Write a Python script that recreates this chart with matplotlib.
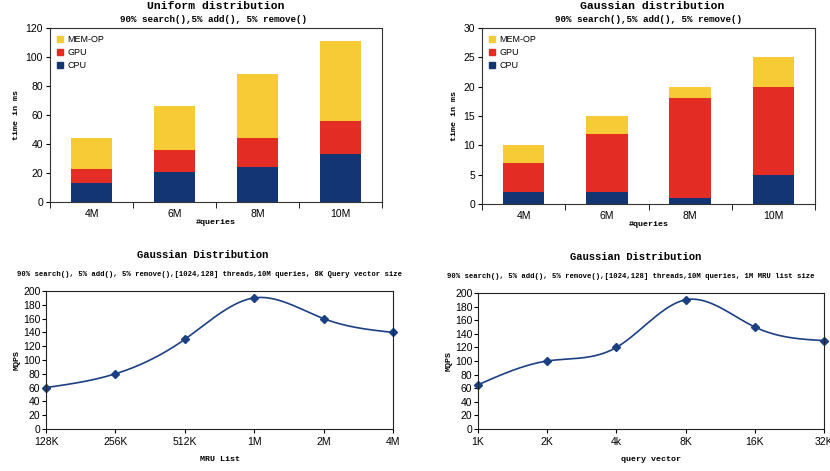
import numpy as np
import matplotlib
matplotlib.use("Agg")
import matplotlib.pyplot as plt
from matplotlib.patches import Patch

categories = ["4M", "6M", "8M", "10M"]
uni_cpu = [13, 21, 24, 33]
uni_gpu = [10, 15, 20, 23]
uni_mem = [21, 30, 44, 55]
gau_cpu = [2, 2, 1, 5]
gau_gpu = [5, 10, 17, 15]
gau_mem = [3, 3, 2, 5]

mru_labels = ["128K", "256K", "512K", "1M", "2M", "4M"]
mru_vals = [60, 80, 130, 190, 160, 140]
qv_labels = ["1K", "2K", "4k", "8K", "16K", "32K"]
qv_vals = [65, 100, 120, 190, 150, 130]

C_CPU = "#143574"
C_GPU = "#e22c24"
C_MEM = "#f6cb35"
C_LINE = "#1c3f82"

W, H = 830, 471
fig = plt.figure(figsize=(W / 100, H / 100), dpi=100)

mono = "Liberation Mono"
sans = "Liberation Sans"


def ax_at(x0, y0, x1, y1):
    return fig.add_axes([x0 / W, 1 - y1 / H, (x1 - x0) / W, (y1 - y0) / H])


def ftext(x, y, s, size):
    fig.text(x / W, 1 - y / H, s, ha="center", va="center", fontfamily=mono,
             fontweight="bold", fontsize=size)


def bar_chart(ax, cpu, gpu, mem, ymax, step):
    x = np.arange(len(categories))
    cpu = np.array(cpu); gpu = np.array(gpu); mem = np.array(mem)
    ax.bar(x, cpu, 0.5, color=C_CPU, label="CPU")
    ax.bar(x, gpu, 0.5, bottom=cpu, color=C_GPU, label="GPU")
    ax.bar(x, mem, 0.5, bottom=cpu + gpu, color=C_MEM, label="MEM-OP")
    ax.set_xlim(-0.5, len(categories) - 0.5)
    ax.set_ylim(0, ymax)
    ax.set_yticks(np.arange(0, ymax + 0.1, step))
    ax.set_xticks(x)
    ax.set_xticklabels(categories, fontfamily=sans, fontsize=7.5)
    ax.tick_params(axis="x", length=0, pad=5)
    ax.set_xticks(np.arange(-0.5, len(categories), 1), minor=True)
    ax.tick_params(axis="x", which="minor", length=4, direction="out")
    ax.tick_params(axis="y", length=3, labelsize=7.5, pad=2)
    for lab in ax.get_yticklabels():
        lab.set_fontfamily(sans)
    for s in ax.spines.values():
        s.set_linewidth(0.8)
        s.set_color("#333333")
    ax.set_ylabel("time in ms", fontfamily=mono, fontweight="bold", fontsize=6)
    ax.set_xlabel("#queries", fontfamily=mono, fontweight="bold", fontsize=6, labelpad=0)
    handles = [Patch(color=C_MEM), Patch(color=C_GPU), Patch(color=C_CPU)]
    ax.legend(handles, ["MEM-OP", "GPU", "CPU"], loc="upper left", frameon=False,
              prop={"family": sans, "size": 6.5}, handlelength=0.6,
              handleheight=0.6, handletextpad=0.5, labelspacing=0.45,
              borderaxespad=0.4)


def spline(xs, ys, n=300):
    xs = np.asarray(xs, float); ys = np.asarray(ys, float)
    m = len(xs)
    h = np.diff(xs)
    A = np.zeros((m, m)); b = np.zeros(m)
    A[0, 0] = A[-1, -1] = 1
    for i in range(1, m - 1):
        A[i, i - 1] = h[i - 1]; A[i, i] = 2 * (h[i - 1] + h[i]); A[i, i + 1] = h[i]
        b[i] = 6 * ((ys[i + 1] - ys[i]) / h[i] - (ys[i] - ys[i - 1]) / h[i - 1])
    M = np.linalg.solve(A, b)
    xx = np.linspace(xs[0], xs[-1], n)
    yy = np.empty_like(xx)
    for k, t in enumerate(xx):
        i = min(np.searchsorted(xs, t, side="right") - 1, m - 2)
        a = xs[i + 1] - t; c = t - xs[i]; hi = h[i]
        yy[k] = (M[i] * a ** 3 + M[i + 1] * c ** 3) / (6 * hi) + \
            (ys[i] / hi - M[i] * hi / 6) * a + (ys[i + 1] / hi - M[i + 1] * hi / 6) * c
    return xx, yy


def line_chart(ax, labels, vals, xlabel):
    x = np.arange(len(labels))
    xx, yy = spline(x, vals)
    ax.plot(xx, yy, color=C_LINE, lw=1.2)
    ax.plot(x, vals, linestyle="none", marker="D", ms=4.5, color=C_LINE, clip_on=False)
    ax.set_xlim(0, len(labels) - 1)
    ax.set_ylim(0, 200)
    ax.set_yticks(np.arange(0, 201, 20))
    ax.set_xticks(x)
    ax.set_xticklabels(labels, fontfamily=sans, fontsize=7.5)
    ax.tick_params(axis="x", length=3, pad=3)
    ax.tick_params(axis="y", length=3, labelsize=7.5, pad=1)
    for lab in ax.get_yticklabels():
        lab.set_fontfamily(sans)
    for s in ax.spines.values():
        s.set_linewidth(0.8)
        s.set_color("#222222")
    ax.set_ylabel("MQPS", fontfamily=mono, fontweight="bold", fontsize=6, labelpad=2)
    ax.set_xlabel(xlabel, fontfamily=mono, fontweight="bold", fontsize=6, labelpad=6)


ax1 = ax_at(50, 28, 382, 202)
bar_chart(ax1, uni_cpu, uni_gpu, uni_mem, 120, 20)
ftext(216, 6, "Uniform distribution", 8.2)
ftext(213, 19, "90% search(),5% add(), 5% remove()", 6.7)

ax2 = ax_at(482, 28, 815, 204)
bar_chart(ax2, gau_cpu, gau_gpu, gau_mem, 30, 5)
ftext(652, 6, "Gaussian distribution", 8.2)
ftext(648, 19, "90% search(),5% add(), 5% remove()", 6.7)

ax3 = ax_at(46, 291, 393, 429)
line_chart(ax3, mru_labels, mru_vals, "MRU List")
ftext(203, 255, "Gaussian Distribution", 7.6)
ftext(209, 275, "90% search(), 5% add(), 5% remove(),[1024,128] threads,10M queries, 8K Query vector size", 5.2)

ax4 = ax_at(478, 293, 824, 429)
line_chart(ax4, qv_labels, qv_vals, "query vector")
ftext(636, 257, "Gaussian Distribution", 7.6)
ftext(631, 276, "90% search(), 5% add(), 5% remove(),[1024,128] threads,10M queries, 1M MRU list size", 5.2)

fig.savefig("out.png", dpi=100)
